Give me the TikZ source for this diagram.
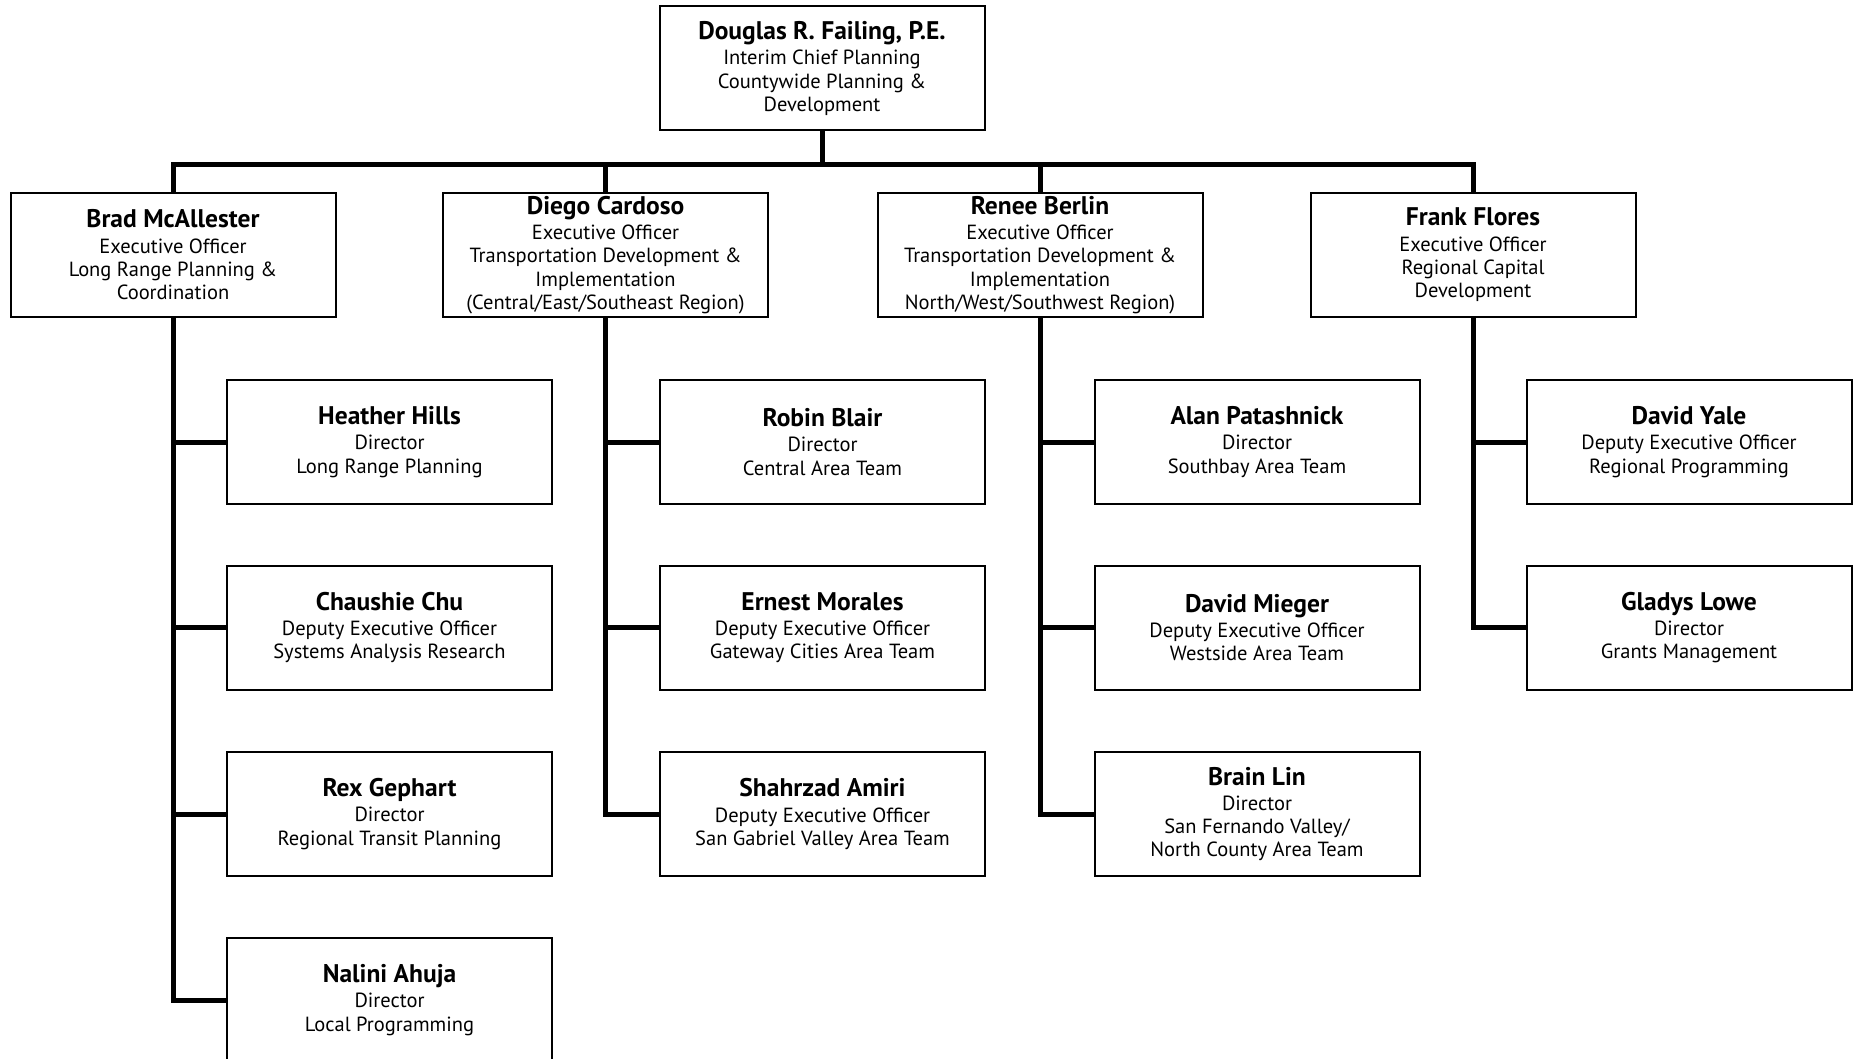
\documentclass[tikz,border=0pt]{standalone}
\usepackage{fontspec}
\setmainfont{PT Sans}
\usetikzlibrary{positioning,calc}

\tikzset{
  post/.style={draw, line width=2pt, rectangle, minimum width=325pt, minimum height=124pt,
    inner sep=0pt, align=center, font=\fontsize{20.5}{23.3}\selectfont},
  link/.style={line width=5pt},
}
\newcommand{\who}[1]{{\fontsize{25.5}{26}\selectfont\bfseries #1}\\[2pt]}

\begin{document}
\begin{tikzpicture}[x=1pt,y=-1pt]
\useasboundingbox (0,0) rectangle (1856,1059);
\clip (0,0) rectangle (1856,1059);
% Head of department
\node[post] (failing) at (822,68.5) {\who{Douglas R. Failing, P.E.}Interim Chief Planning\\Countywide Planning \&\\Development};

% Executive officers
\node[post] (mcallester) at (173,255) {\who{Brad McAllester}Executive Officer\\Long Range Planning \&\\Coordination};
\node[post] (cardoso) at (605.5,255) {\who{Diego Cardoso}Executive Officer\\Transportation Development \&\\Implementation\\(Central/East/Southeast Region)};
\node[post] (berlin) at (1040,255) {\who{Renee Berlin}Executive Officer\\Transportation Development \&\\Implementation\\North/West/Southwest Region)};
\node[post] (flores) at (1473,255) {\who{Frank Flores}Executive Officer\\Regional Capital\\Development};

% Long range planning
\node[post] (hills) at (389.5,442) {\who{Heather Hills}Director\\Long Range Planning};
\node[post] (chu) at (389.5,627.5) {\who{Chaushie Chu}Deputy Executive Officer\\Systems Analysis Research};
\node[post] (gephart) at (389.5,814) {\who{Rex Gephart}Director\\Regional Transit Planning};
\node[post] (ahuja) at (389.5,1000) {\who{Nalini Ahuja}Director\\Local Programming};

% Central/East/Southeast
\node[post] (blair) at (822.5,442) {\who{Robin Blair}Director\\Central Area Team};
\node[post] (morales) at (822.5,627.5) {\who{Ernest Morales}Deputy Executive Officer\\Gateway Cities Area Team};
\node[post] (amiri) at (822.5,814) {\who{Shahrzad Amiri}Deputy Executive Officer\\San Gabriel Valley Area Team};

% North/West/Southwest
\node[post] (patashnick) at (1257,442) {\who{Alan Patashnick}Director\\Southbay Area Team};
\node[post] (mieger) at (1257,627.5) {\who{David Mieger}Deputy Executive Officer\\Westside Area Team};
\node[post] (lin) at (1257,814) {\who{Brain Lin}Director\\San Fernando Valley/\\North County Area Team};

% Regional capital development
\node[post] (yale) at (1689,442) {\who{David Yale}Deputy Executive Officer\\Regional Programming};
\node[post] (lowe) at (1689,627.5) {\who{Gladys Lowe}Director\\Grants Management};

% Lines
\coordinate (bus) at (822,164.5);
\draw[link] (failing.south) -- (bus);
\draw[link] (mcallester.north) -- (mcallester.north |- bus) -- (flores.north |- bus) -- (flores.north);
\draw[link] (cardoso.north) -- (cardoso.north |- bus);
\draw[link] (berlin.north) -- (berlin.north |- bus);
\foreach \kid in {hills,chu,gephart,ahuja}
  \draw[link] (mcallester.south) |- (\kid.west);
\foreach \kid in {blair,morales,amiri}
  \draw[link] (cardoso.south) |- (\kid.west);
\foreach \kid in {patashnick,mieger,lin}
  \draw[link] (berlin.south) |- (\kid.west);
\foreach \kid in {yale,lowe}
  \draw[link] (flores.south) |- (\kid.west);

\end{tikzpicture}
\end{document}
